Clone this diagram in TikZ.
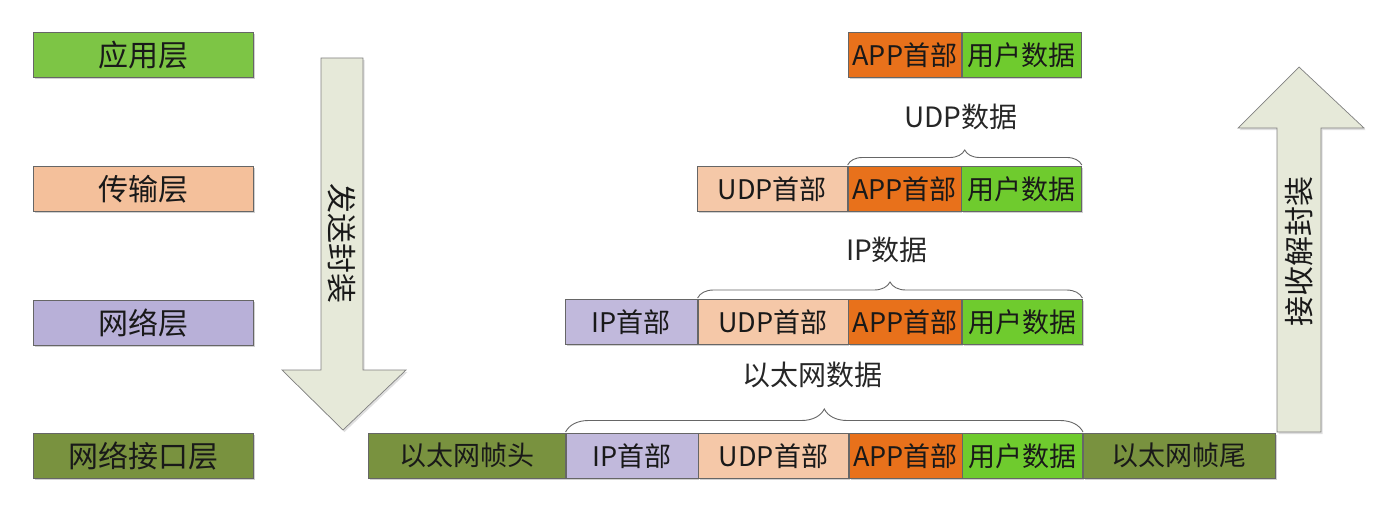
\documentclass[tikz,border=0pt]{standalone}
\usepackage{fontspec}
\setmainfont{Noto Sans CJK SC}
\usetikzlibrary{shadows,decorations.pathreplacing}
\definecolor{laygreen}{HTML}{7DC545}
\definecolor{laypeach}{HTML}{F4C09B}
\definecolor{laylav}{HTML}{B8B0D8}
\definecolor{olive}{HTML}{79923F}
\definecolor{apporange}{HTML}{E8711B}
\definecolor{usergreen}{HTML}{6FCB2E}
\definecolor{udppeach}{HTML}{F5C8A8}
\definecolor{iplav}{HTML}{C1B9DC}
\definecolor{arrowfill}{HTML}{E6E9D9}
\begin{document}
\begin{tikzpicture}[x=1pt,y=-1pt,
  cell/.style={draw=black!60, line width=0.6pt, minimum height=45pt, inner sep=0pt,
    anchor=north west, font=\fontsize{27}{27}\selectfont, text=black!90,
    drop shadow={shadow xshift=1.5pt, shadow yshift=-2pt, opacity=0.3, fill=black!60}},
  layer/.style={cell, minimum width=220pt, font=\fontsize{30}{30}\selectfont},
  bracelbl/.style={font=\fontsize{28}{28}\selectfont, text=black!85, inner sep=0pt},
  brc/.style={decorate, decoration={brace, amplitude=#1}, draw=black!60, line width=0.9pt},
  bigarrow/.style={draw=black!50, fill=arrowfill, line width=0.7pt,
    drop shadow={shadow xshift=1.5pt, shadow yshift=-2pt, opacity=0.25, fill=black!50}},
  arrowtxt/.style={font=\fontsize{30}{30}\selectfont, text=black!90, inner sep=0pt}
]
\useasboundingbox (0,0) rectangle (1396,516);

% layer boxes
\node[layer, fill=laygreen] (L1) at (33,32) {应用层};
\node[layer, fill=laypeach] (L2) at (33,166) {传输层};
\node[layer, fill=laylav] (L3) at (33,300) {网络层};
\node[layer, fill=olive] (L4) at (33,433) {网络接口层};

% big arrows
\draw[bigarrow] (321,58) -- (363,58) -- (363,370) -- (406,370) -- (343,430) -- (282,370) -- (321,370) -- cycle;
\node[arrowtxt, rotate=-90] (send) at (342,243) {发送封装};
\draw[bigarrow] (1277,432) -- (1277,128) -- (1238,128) -- (1299,67) -- (1364,128) -- (1321,128) -- (1321,432) -- cycle;
\node[arrowtxt, rotate=90] (recv) at (1299,251) {接收解封装};

% row 1
\node[cell, fill=apporange, minimum width=113pt] (a1) at (848,32) {APP首部};
\node[cell, fill=usergreen, minimum width=119pt] (u1) at (a1.north east) {用户数据};

% row 2
\node[cell, fill=udppeach, minimum width=150pt] (d2) at (697,166) {UDP首部};
\node[cell, fill=apporange, minimum width=113pt] (a2) at (d2.north east) {APP首部};
\node[cell, fill=usergreen, minimum width=120pt] (u2) at (a2.north east) {用户数据};

% row 3
\node[cell, fill=iplav, minimum width=132pt] (i3) at (565,299) {IP首部};
\node[cell, fill=udppeach, minimum width=150pt] (d3) at (i3.north east) {UDP首部};
\node[cell, fill=apporange, minimum width=113pt] (a3) at (d3.north east) {APP首部};
\node[cell, fill=usergreen, minimum width=120pt] (u3) at (a3.north east) {用户数据};

% row 4
\node[cell, fill=olive, minimum width=197pt] (h4) at (368,433) {以太网帧头};
\node[cell, fill=iplav, minimum width=132pt] (i4) at (h4.north east) {IP首部};
\node[cell, fill=udppeach, minimum width=150pt] (d4) at (i4.north east) {UDP首部};
\node[cell, fill=apporange, minimum width=113pt] (a4) at (d4.north east) {APP首部};
\node[cell, fill=usergreen, minimum width=120pt] (u4) at (a4.north east) {用户数据};
\node[cell, fill=olive, minimum width=192pt] (t4) at (1083,433) {以太网帧尾};

% braces and labels
\draw[brc=15] ([yshift=1pt]a2.north west) -- ([yshift=1pt]u2.north east);
\node[bracelbl] (lb2) at (961,117) {UDP数据};
\draw[brc=16] ([yshift=1pt]d3.north west) -- ([yshift=1pt]u3.north east);
\node[bracelbl] (lb3) at (887,250) {IP数据};
\draw[brc=23] ([yshift=1pt]i4.north west) -- ([yshift=1pt]u4.north east);
\node[bracelbl] (lb4) at (812,375) {以太网数据};
\end{tikzpicture}
\end{document}
